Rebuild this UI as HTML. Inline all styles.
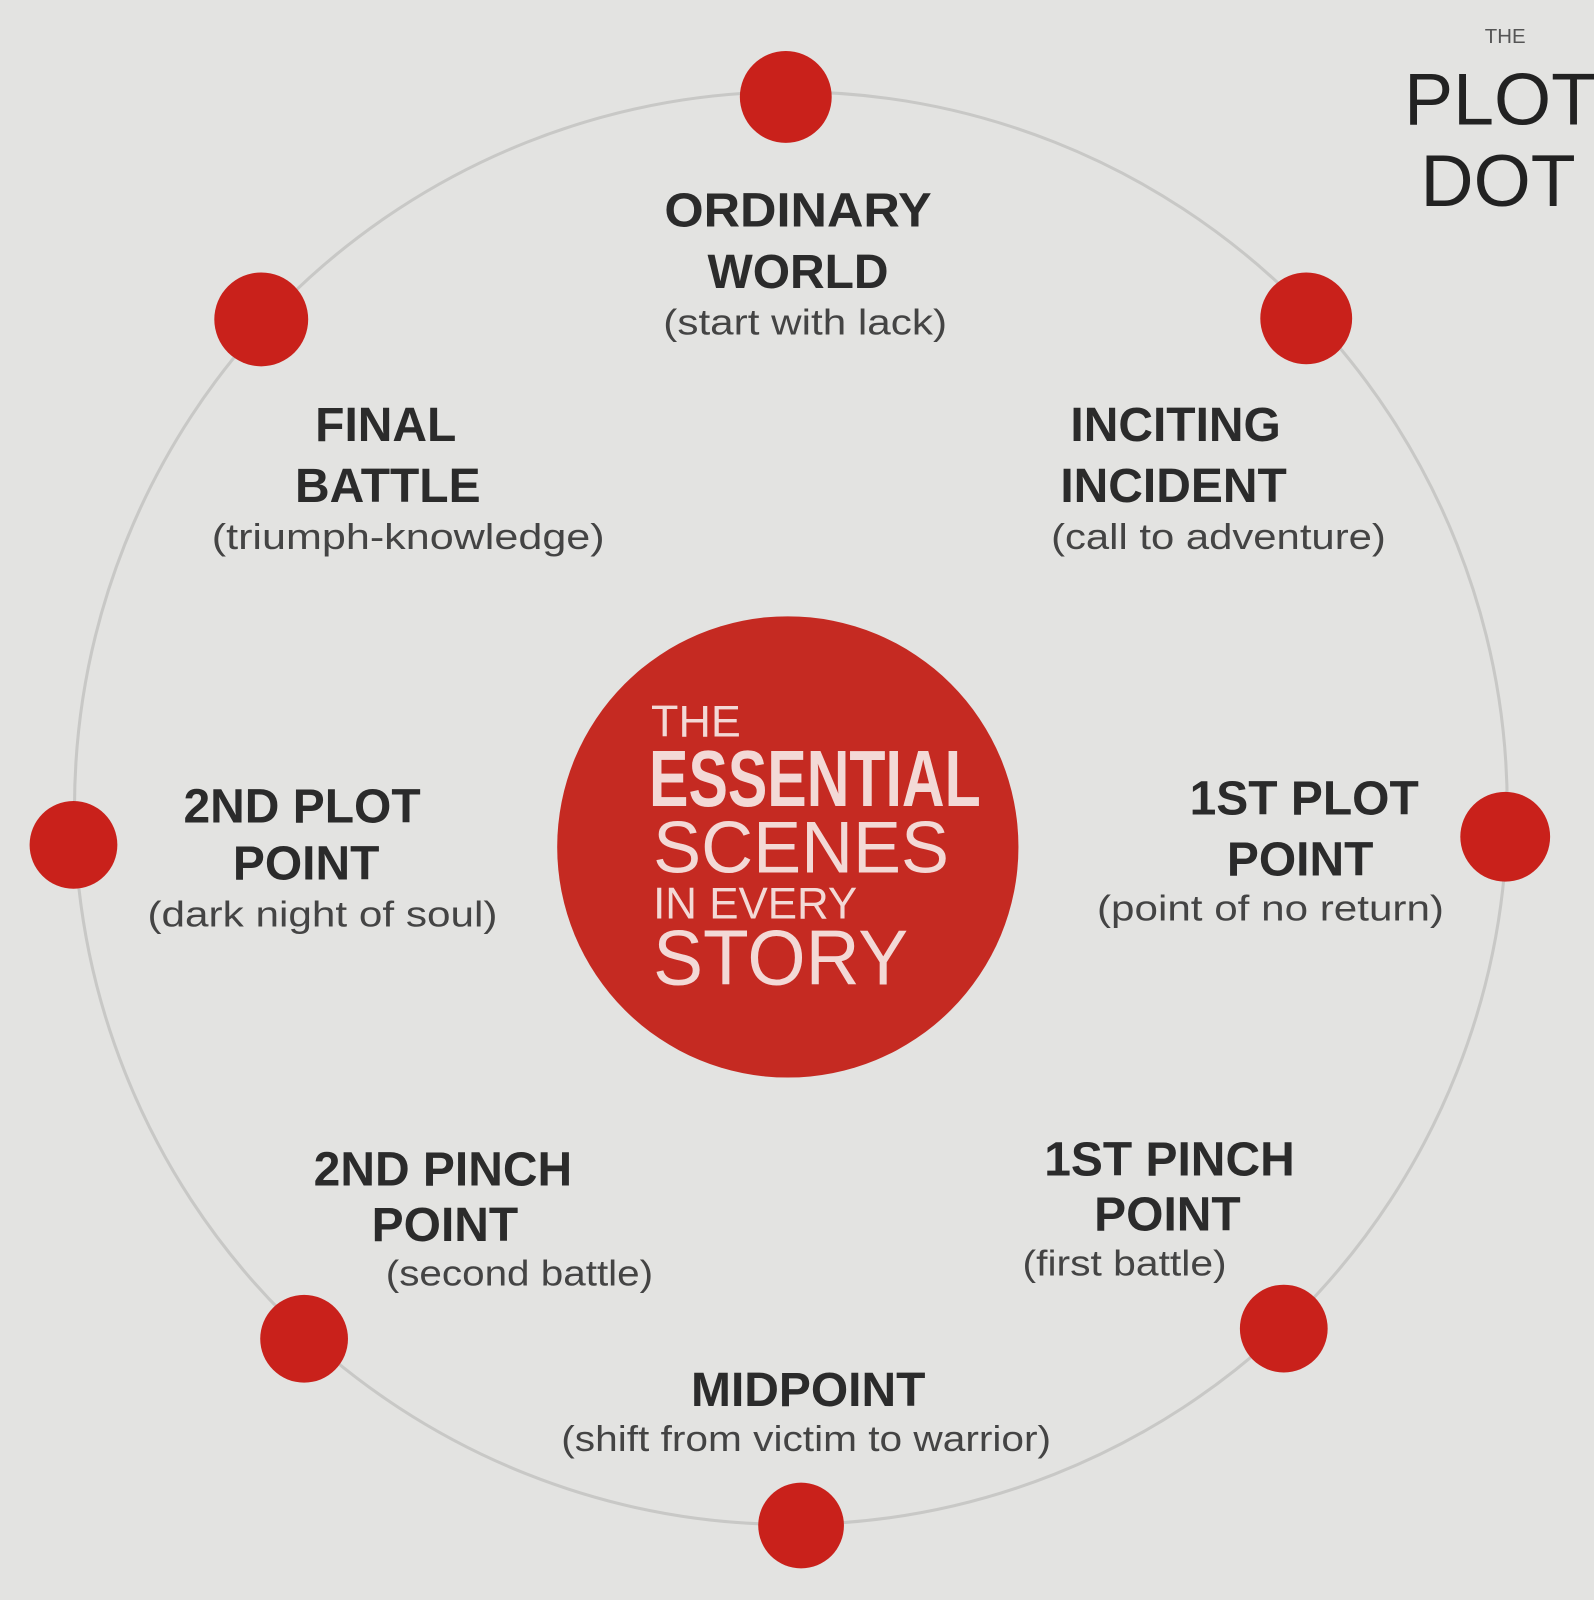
<!DOCTYPE html>
<html><head><meta charset="utf-8"><style>
html,body{margin:0;padding:0;background:#e2e2e0;}
svg{display:block}
.t{font-family:"Liberation Sans",sans-serif;font-weight:bold;fill:#2b2b2b;font-size:47px;text-anchor:middle}
.s{font-family:"Liberation Sans",sans-serif;fill:#444;font-size:35px;text-anchor:middle}
.c{font-family:"Liberation Sans",sans-serif;fill:#f3d9d6;text-anchor:start}
</style></head><body>
<svg width="1594" height="1600" viewBox="0 0 1562 1568" preserveAspectRatio="none">
<rect width="1562" height="1568" fill="#e3e3e1"/>
<circle cx="775" cy="792" r="702" fill="none" stroke="#c8c8c6" stroke-width="3"/>
<g fill="#c9211b">
<circle cx="770" cy="95" r="45"/>
<circle cx="1280" cy="312" r="45"/>
<circle cx="1475" cy="820" r="44"/>
<circle cx="1258" cy="1302" r="43"/>
<circle cx="785" cy="1495" r="42"/>
<circle cx="298" cy="1312" r="43"/>
<circle cx="72" cy="828" r="43"/>
<circle cx="256" cy="313" r="46"/>
</g>
<circle cx="772" cy="830" r="226" fill="#c52a22"/>
<text class="c" x="638" y="722" font-size="44">THE</text>
<text class="c" x="636" y="790" font-size="78" font-weight="bold" textLength="325" lengthAdjust="spacingAndGlyphs">ESSENTIAL</text>
<text class="c" x="640" y="855" font-size="72" textLength="290" lengthAdjust="spacingAndGlyphs">SCENES</text>
<text class="c" x="640" y="900" font-size="44" textLength="200" lengthAdjust="spacingAndGlyphs">IN EVERY</text>
<text class="c" x="640" y="965" font-size="76" textLength="250" lengthAdjust="spacingAndGlyphs">STORY</text>
<text class="t" x="782" y="222" textLength="262" lengthAdjust="spacingAndGlyphs">ORDINARY</text>
<text class="t" x="782" y="282">WORLD</text>
<text class="s" x="789" y="328" textLength="278" lengthAdjust="spacingAndGlyphs">(start with lack)</text>
<text class="t" x="1152" y="432">INCITING</text>
<text class="t" x="1150" y="492">INCIDENT</text>
<text class="s" x="1194" y="538" textLength="328" lengthAdjust="spacingAndGlyphs">(call to adventure)</text>
<text class="t" x="1278" y="798">1ST PLOT</text>
<text class="t" x="1274" y="858">POINT</text>
<text class="s" x="1245" y="902" textLength="340" lengthAdjust="spacingAndGlyphs">(point of no return)</text>
<text class="t" x="1146" y="1152">1ST PINCH</text>
<text class="t" x="1144" y="1206">POINT</text>
<text class="s" x="1102" y="1250" textLength="200" lengthAdjust="spacingAndGlyphs">(first battle)</text>
<text class="t" x="792" y="1378">MIDPOINT</text>
<text class="s" x="790" y="1422" textLength="480" lengthAdjust="spacingAndGlyphs">(shift from victim to warrior)</text>
<text class="t" x="434" y="1162">2ND PINCH</text>
<text class="t" x="436" y="1216">POINT</text>
<text class="s" x="509" y="1260" textLength="262" lengthAdjust="spacingAndGlyphs">(second battle)</text>
<text class="t" x="296" y="806">2ND PLOT</text>
<text class="t" x="300" y="862">POINT</text>
<text class="s" x="316" y="908" textLength="343" lengthAdjust="spacingAndGlyphs">(dark night of soul)</text>
<text class="t" x="378" y="432">FINAL</text>
<text class="t" x="380" y="492">BATTLE</text>
<text class="s" x="400" y="538" textLength="385" lengthAdjust="spacingAndGlyphs">(triumph-knowledge)</text>
<text x="1475" y="42" font-family="Liberation Sans,sans-serif" font-size="20" fill="#555" text-anchor="middle">THE</text>
<text x="1470" y="122" font-family="Liberation Sans,sans-serif" font-size="72" fill="#222" text-anchor="middle">PLOT</text>
<text x="1468" y="202" font-family="Liberation Sans,sans-serif" font-size="72" fill="#222" text-anchor="middle">DOT</text>
</svg>
</body></html>
